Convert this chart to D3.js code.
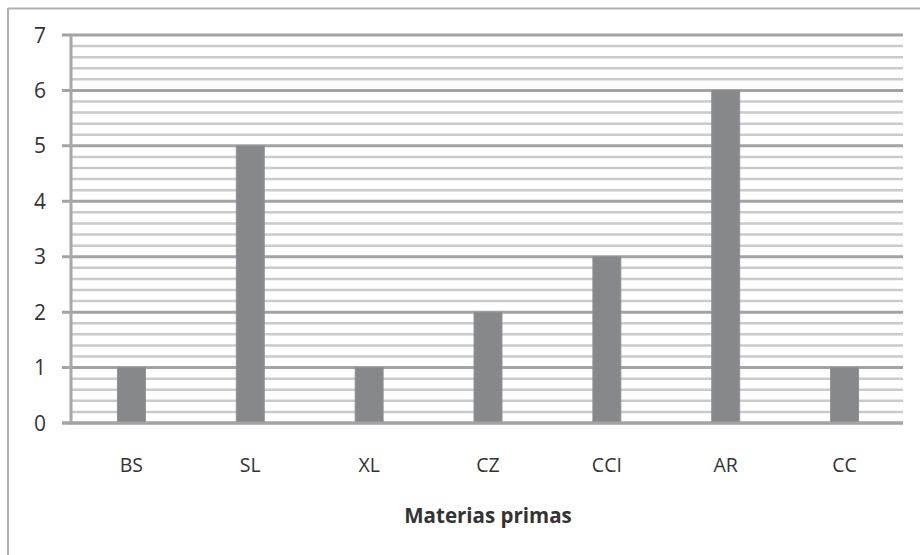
<!DOCTYPE html>
<html>
<head>
<meta charset="utf-8">
<script src="https://cdn.jsdelivr.net/npm/d3@7"></script>
<style>
  html, body { margin: 0; padding: 0; background: #fff; }
  svg { display: block; }
  text { font-family: "Open Sans", "Noto Sans", sans-serif; fill: #333; }
</style>
</head>
<body>
<svg id="chart" width="920" height="555"></svg>
<script>
// Raw materials and their counts
const categories = ["BS", "SL", "XL", "CZ", "CCI", "AR", "CC"];
const values = [1, 5, 1, 2, 3, 6, 1];
const yTicks = [0, 1, 2, 3, 4, 5, 6, 7];
const axisTitle = "Materias primas";

const svg = d3.select("#chart");
const W = 920, H = 555;
const plot = { left: 71, right: 903, top: 35, bottom: 423 };

// Outer frame: top and left edges
svg.append("line").attr("x1", 8).attr("x2", W).attr("y1", 8.5).attr("y2", 8.5)
  .attr("stroke", "#b0b0b0").attr("stroke-width", 2);
svg.append("line").attr("x1", 8).attr("x2", 8).attr("y1", 8).attr("y2", H)
  .attr("stroke", "#b0b0b0").attr("stroke-width", 2);

const x = d3.scaleBand().domain(categories).range([plot.left, plot.right]).paddingInner(0).paddingOuter(0);
const y = d3.scaleLinear().domain([0, 7]).range([plot.bottom, plot.top]);

// Minor gridlines every 0.2
const minor = d3.range(0, 7.0001, 0.2).filter(v => Math.abs(v - Math.round(v)) > 1e-6);
svg.append("g").selectAll("line").data(minor).join("line")
  .attr("x1", plot.left).attr("x2", plot.right)
  .attr("y1", d => y(d)).attr("y2", d => y(d))
  .attr("stroke", "#cacaca").attr("stroke-width", 2.5);

// Major gridlines with ticks extending left of the axis
svg.append("g").selectAll("line").data(yTicks).join("line")
  .attr("x1", 62).attr("x2", plot.right)
  .attr("y1", d => y(d)).attr("y2", d => y(d))
  .attr("stroke", "#a3a3a3").attr("stroke-width", 3);

// Bars
const barW = x.bandwidth() * 0.235;
svg.append("g").selectAll("rect").data(categories).join("rect")
  .attr("x", d => x(d) + x.bandwidth() / 2 - barW / 2 + 1)
  .attr("width", barW)
  .attr("y", (d, i) => y(values[i]))
  .attr("height", (d, i) => y(0) - y(values[i]))
  .attr("fill", "#87888b")
  .attr("stroke", "#8f9093").attr("stroke-width", 1);

// Vertical axis line
svg.append("line").attr("x1", plot.left).attr("x2", plot.left)
  .attr("y1", plot.top).attr("y2", plot.bottom + 1.5)
  .attr("stroke", "#a8a8a8").attr("stroke-width", 3);

// Baseline drawn over the bars
svg.append("line").attr("x1", 62).attr("x2", plot.right)
  .attr("y1", y(0)).attr("y2", y(0))
  .attr("stroke", "#a3a3a3").attr("stroke-width", 3);

// Y tick labels
svg.append("g").selectAll("text").data(yTicks).join("text")
  .attr("x", 46).attr("y", d => y(d) + 7.5)
  .attr("text-anchor", "end")
  .style("font-size", "21px")
  .text(d => d);

// Category labels
svg.append("g").selectAll("text").data(categories).join("text")
  .attr("x", d => x(d) + x.bandwidth() / 2 + 1)
  .attr("y", 472)
  .attr("text-anchor", "middle")
  .style("font-size", "19.5px")
  .text(d => d);

// Axis title
svg.append("text")
  .attr("x", 488).attr("y", 523)
  .attr("text-anchor", "middle")
  .style("font-size", "20.5px").style("font-weight", "bold")
  .text(axisTitle);
</script>
</body>
</html>
